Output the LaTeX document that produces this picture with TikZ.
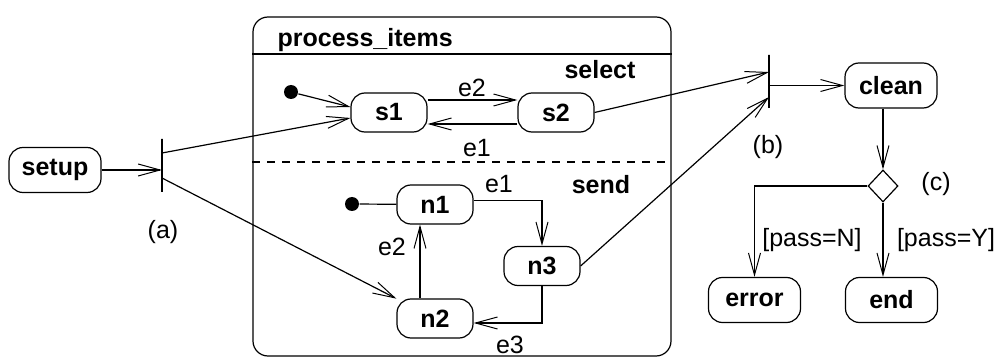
\documentclass[tikz,border=0pt]{standalone}
\usepackage{fontspec}
\setmainfont{Liberation Sans}
\usetikzlibrary{arrows.meta,calc,positioning,shapes.geometric}

\begin{document}
\begin{tikzpicture}[x=0.5pt,y=-0.5pt,font=\fontsize{12.5}{15}\selectfont,line width=0.6pt,
    >={Straight Barb[length=11pt,width=6pt,line width=0.5pt]},
    state/.style={draw,rounded corners=7pt,minimum width=38pt,minimum height=19.5pt,inner sep=0pt,font=\fontsize{12.5}{15}\selectfont\bfseries},
    act/.style={state,minimum width=46pt,minimum height=22.5pt},
    bar/.style={draw,inner sep=0pt,minimum width=0pt,minimum height=26.5pt},
    start/.style={circle,fill,inner sep=0pt,minimum size=7pt}]
  \useasboundingbox (0,0) rectangle (998,358);
  % composite state with two regions
  \node[draw,rounded corners=7.5pt,minimum width=209pt,minimum height=169.5pt] (proc) at (462,186.5) {};
  \node[anchor=base west,inner sep=0pt] (ptitle) at (277,47) {\bfseries process\_items};
  \draw (proc.west |- 0,54) -- (proc.east |- 0,54);
  \draw[dash pattern=on 4pt off 3.5pt] (proc.west |- 0,162) -- (proc.east |- 0,162);
  \node (lsel) at (600,70) {\bfseries select};
  \node (lsend) at (601,185) {\bfseries send};
  % select region
  \node[start] (i1) at (291,92) {};
  \node[state] (s1) at (389,112.5) {s1};
  \node[state] (s2) at (556,112.5) {s2};
  % send region
  \node[start] (i2) at (352,204) {};
  \node[state] (n1) at (435,204.5) {n1};
  \node[state] (n3) at (542,266) {n3};
  \node[state] (n2) at (435,318.5) {n2};
  % outside
  \node[act] (setup) at (55,170) {setup};
  \node[bar] (fa) at (162,165.5) {};
  \node[bar] (fb) at (769,81.5) {};
  \node[act] (clean) at (891,85.5) {clean};
  \node[draw,diamond,inner sep=0pt,minimum width=15pt,minimum height=16pt] (dec) at (883,186) {};
  \node[act] (error) at (754.5,300) {error};
  \node[act] (endst) at (891.5,300) {end};
  \coordinate (fa1) at (162,153);
  \coordinate (fa2) at (162,178);
  \coordinate (fb1) at (769,72);
  \coordinate (fb2) at (769,97);
  % labels
  \node (la) at (163,232) {(a)};
  \node (lb) at (768,147) {(b)};
  \node (lc) at (936,184) {(c)};
  \node (le2) at (472,88) {e2};
  \node (le1) at (477,148) {e1};
  \node (lf1) at (499,184) {e1};
  \node (lf2) at (392,247) {e2};
  \node (lf3) at (510,345) {e3};
  \node (lno) at (812,240) {[pass=N]};
  \node (lyes) at (946,240) {[pass=Y]};
  % transitions
  \draw[->] (setup.east) -- (setup.east -| fa);
  \draw[->] (fa1) -- ([yshift=-2.75pt]s1.west);
  \draw[->] (i1) -- ([yshift=2.75pt]s1.west);
  \draw[->] ([yshift=6.25pt]s1.east) -- ([yshift=6.25pt]s2.west);
  \draw[->] ([yshift=-5.75pt]s2.west) -- ([yshift=-5.75pt]s1.east);
  \draw[->] (fa2) -- (n2);
  \draw (i2) -- (n1);
  \draw[->] ([yshift=2pt]n1.east) -| (n3.north);
  \draw[->] (n3.south) |- ([yshift=-2.25pt]n2.east);
  \draw[->,line width=0.8pt] ([xshift=-7.5pt]n2.north) -- ([xshift=-7.5pt]n1.south);
  \draw[->] (s2.east) -- (fb1);
  \draw[->] (n3.east) -- (fb2);
  \draw[->] (clean.west -| fb) -- (clean.west);
  \draw[->] (clean.south -| dec) -- (dec.north);
  \draw[->] (dec.west) -| (error.north);
  \draw[->] (dec.south) -- (dec.south |- endst.north);
\end{tikzpicture}
\end{document}
